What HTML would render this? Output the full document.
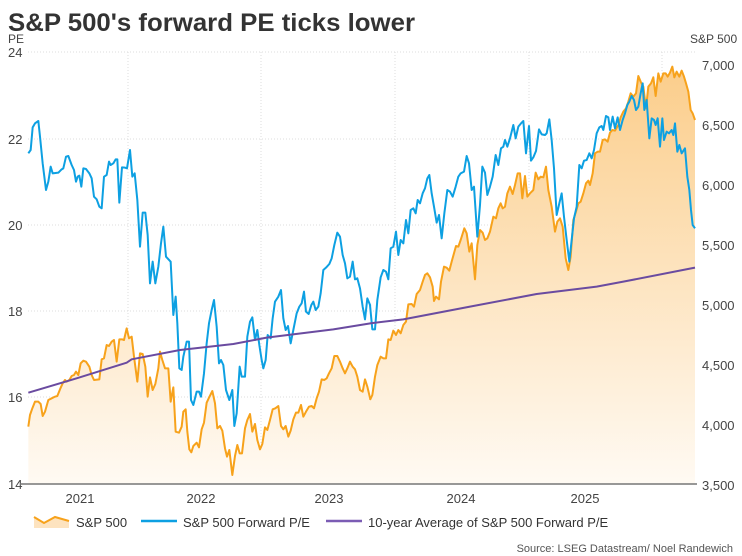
<!DOCTYPE html>
<html><head><meta charset="utf-8"><style>
body{margin:0;background:#fff;width:742px;height:556px;overflow:hidden;font-family:"Liberation Sans",sans-serif;}
svg{display:block}
</style></head><body>
<svg width="742" height="556" viewBox="0 0 742 556" font-family="Liberation Sans, sans-serif">
<defs>
<linearGradient id="g" gradientUnits="userSpaceOnUse" x1="0" y1="70" x2="0" y2="1331">
<stop offset="0" stop-color="#fbcd8a"/><stop offset="1" stop-color="#fffaf3"/></linearGradient>
</defs>
<text x="8" y="31" font-size="25" font-weight="bold" fill="#333" textLength="407" lengthAdjust="spacingAndGlyphs">S&amp;P 500's forward PE ticks lower</text>
<text x="8" y="43" font-size="12" fill="#444">PE</text>
<text x="690" y="43" font-size="12" fill="#444">S&amp;P 500</text>
<g stroke="#ddd" stroke-dasharray="1,2" stroke-width="1">
<line x1="28" y1="52" x2="695" y2="52"/><line x1="28" y1="139" x2="695" y2="139"/><line x1="28" y1="225" x2="695" y2="225"/><line x1="28" y1="311" x2="695" y2="311"/><line x1="28" y1="397" x2="695" y2="397"/>
<line x1="128" y1="52" x2="128" y2="484"/><line x1="261" y1="52" x2="261" y2="484"/><line x1="395" y1="52" x2="395" y2="484"/><line x1="529" y1="52" x2="529" y2="484"/><line x1="662" y1="52" x2="662" y2="484"/>
</g>
<g font-size="13" fill="#444">
<text x="8" y="57">24</text><text x="8" y="144">22</text><text x="8" y="230">20</text><text x="8" y="316">18</text><text x="8" y="402">16</text><text x="8" y="489">14</text>
<text x="702" y="70">7,000</text><text x="702" y="130">6,500</text><text x="702" y="190">6,000</text><text x="702" y="250">5,500</text><text x="702" y="310">5,000</text><text x="702" y="370">4,500</text><text x="702" y="430">4,000</text><text x="702" y="490">3,500</text>
<text x="80" y="503" text-anchor="middle">2021</text><text x="201" y="503" text-anchor="middle">2022</text><text x="329" y="503" text-anchor="middle">2023</text><text x="461" y="503" text-anchor="middle">2024</text><text x="585" y="503" text-anchor="middle">2025</text>
</g>
<g transform="translate(0,40) scale(0.33333)" fill="none" stroke-linejoin="round">
<polygon fill="url(#g)" stroke="none" points="85,1331 85,1160 90,1125 97,1105 105,1085 115,1085 122,1092 128,1128 135,1115 145,1080 155,1075 165,1070 172,1068 180,1048 188,1030 195,1020 200,1025 208,1020 215,1008 222,1005 228,995 235,1005 242,970 250,962 258,965 268,980 275,1005 282,1020 298,1018 305,958 312,955 320,915 327,918 335,905 342,900 350,965 358,898 366,898 372,900 380,865 387,895 395,890 402,950 412,1025 420,940 428,942 436,980 443,1070 450,1012 458,1050 466,1032 475,985 480,935 487,960 495,985 505,985 512,1085 520,1042 527,1175 537,1178 545,1160 550,1115 557,1108 562,1175 568,1228 574,1237 580,1218 590,1208 597,1222 605,1168 612,1148 620,1088 627,1073 637,1053 645,1090 652,1165 660,1158 667,1172 675,1225 681,1250 688,1230 697,1305 705,1248 712,1215 719,1240 726,1240 735,1165 742,1140 750,1122 757,1175 765,1152 772,1200 780,1228 787,1212 795,1162 802,1170 810,1140 818,1108 826,1105 835,1098 843,1158 850,1168 857,1158 865,1190 872,1172 880,1138 888,1118 895,1118 903,1095 910,1130 918,1115 927,1100 935,1098 942,1105 950,1075 957,1055 965,1018 973,1020 980,1015 987,1000 995,985 1003,948 1012,948 1020,965 1028,985 1035,1000 1042,985 1050,965 1058,980 1065,988 1072,1010 1080,1050 1088,1055 1095,1018 1102,1040 1111,1075 1111,1331"/>
<polyline stroke="#f7a21b" stroke-width="2" vector-effect="non-scaling-stroke" points="85,1160 90,1125 97,1105 105,1085 115,1085 122,1092 128,1128 135,1115 145,1080 155,1075 165,1070 172,1068 180,1048 188,1030 195,1020 200,1025 208,1020 215,1008 222,1005 228,995 235,1005 242,970 250,962 258,965 268,980 275,1005 282,1020 298,1018 305,958 312,955 320,915 327,918 335,905 342,900 350,965 358,898 366,898 372,900 380,865 387,895 395,890 402,950 412,1025 420,940 428,942 436,980 443,1070 450,1012 458,1050 466,1032 475,985 480,935 487,960 495,985 505,985 512,1085 520,1042 527,1175 537,1178 545,1160 550,1115 557,1108 562,1175 568,1228 574,1237 580,1218 590,1208 597,1222 605,1168 612,1148 620,1088 627,1073 637,1053 645,1090 652,1165 660,1158 667,1172 675,1225 681,1250 688,1230 697,1305 705,1248 712,1215 719,1240 726,1240 735,1165 742,1140 750,1122 757,1175 765,1152 772,1200 780,1228 787,1212 795,1162 802,1170 810,1140 818,1108 826,1105 835,1098 843,1158 850,1168 857,1158 865,1190 872,1172 880,1138 888,1118 895,1118 903,1095 910,1130 918,1115 927,1100 935,1098 942,1105 950,1075 957,1055 965,1018 973,1020 980,1015 987,1000 995,985 1003,948 1012,948 1020,965 1028,985 1035,1000 1042,985 1050,965 1058,980 1065,988 1072,1010 1080,1050 1088,1055 1095,1018 1102,1040 1111,1078"/>
<polyline stroke="#0da0e2" stroke-width="2" vector-effect="non-scaling-stroke" points="85,340 92,330 98,262 105,250 115,243 120,290 128,370 138,450 145,425 152,380 158,400 175,398 185,388 190,385 198,350 205,348 215,375 222,390 228,425 233,410 238,407 244,440 250,385 258,387 268,400 275,415 282,470 290,478 298,500 305,505 312,410 320,405 327,365 332,375 340,370 347,358 352,358 358,488 366,382 375,383 381,385 390,330 397,410 404,400 412,480 420,620 428,518 436,518 443,585 450,730 458,665 466,730 475,680 483,610 490,560 498,650 512,665 520,825 527,770 532,850 538,985 545,990 550,950 560,905 567,905 573,1080 580,1095 590,1055 597,1055 603,1070 612,1000 620,910 627,850 635,810 642,780 650,860 657,970 663,960 670,975 678,1050 688,1080 697,1050 703,1158 710,1120 719,980 725,1010 735,1010 742,890 750,845 757,832 765,900 772,870 778,915 785,960 790,985 797,960 803,885 812,895 818,835 825,785 835,770 843,750 850,835 857,870 864,858 872,910 880,870 890,820 898,800 905,790 912,755 918,815 926,822 934,795 940,785 947,810 955,800 962,760 970,690 978,683 988,672 995,655 1003,615 1012,578 1020,590 1028,645 1035,670 1042,715 1050,710 1058,665 1065,718 1072,715 1080,745 1088,800 1095,838 1102,775 1111,797"/>
<polyline stroke="#6a4ba0" stroke-width="2" vector-effect="non-scaling-stroke" points="85,1058 230,1015 380,968 395,958 540,930 700,912 800,893 1000,868 1111,850"/>
</g>
<g transform="translate(370,40) scale(0.33333)" fill="none" stroke-linejoin="round">
<polygon fill="url(#g)" stroke="none" points="0,1331 0,1080 7,1065 15,1010 22,975 32,950 40,955 48,955 55,898 62,900 70,872 78,885 85,870 92,880 100,855 108,845 115,793 125,792 132,800 140,762 150,750 158,725 165,705 172,700 180,712 188,740 192,783 198,770 207,778 213,725 222,680 230,683 238,692 245,665 258,618 265,620 272,600 283,565 290,580 298,635 305,610 315,718 322,615 330,570 338,578 345,600 352,595 360,575 370,530 378,535 385,505 392,490 398,505 405,500 412,460 420,440 428,462 435,435 443,400 450,400 457,475 465,408 472,470 480,460 490,450 497,398 505,418 512,410 520,412 528,380 535,450 545,500 555,575 562,545 570,535 578,560 587,655 595,690 602,650 610,540 618,515 625,490 632,485 640,460 648,430 655,422 660,435 668,400 675,340 683,335 690,335 698,300 705,298 713,305 720,278 727,270 735,272 745,255 752,232 760,215 768,205 775,185 782,160 790,170 798,160 805,108 812,125 820,140 828,205 835,140 843,130 850,112 857,168 865,100 872,125 880,100 887,100 893,110 900,98 907,80 913,112 920,95 928,110 935,92 942,110 948,130 955,155 962,210 968,220 975,240 975,1331"/>
<polyline stroke="#f7a21b" stroke-width="2" vector-effect="non-scaling-stroke" points="0,1080 7,1065 15,1010 22,975 32,950 40,955 48,955 55,898 62,900 70,872 78,885 85,870 92,880 100,855 108,845 115,793 125,792 132,800 140,762 150,750 158,725 165,705 172,700 180,712 188,740 192,783 198,770 207,778 213,725 222,680 230,683 238,692 245,665 258,618 265,620 272,600 283,565 290,580 298,635 305,610 315,718 322,615 330,570 338,578 345,600 352,595 360,575 370,530 378,535 385,505 392,490 398,505 405,500 412,460 420,440 428,462 435,435 443,400 450,400 457,475 465,408 472,470 480,460 490,450 497,398 505,418 512,410 520,412 528,380 535,450 545,500 555,575 562,545 570,535 578,560 587,655 595,690 602,650 610,540 618,515 625,490 632,485 640,460 648,430 655,422 660,435 668,400 675,340 683,335 690,335 698,300 705,298 713,305 720,278 727,270 735,272 745,255 752,232 760,215 768,205 775,185 782,160 790,170 798,160 805,108 812,125 820,140 828,205 835,140 843,130 850,112 857,168 865,100 872,125 880,100 887,100 893,110 900,98 907,80 913,112 920,95 928,110 935,92 942,110 948,130 955,155 962,210 968,220 975,240"/>
<polyline stroke="#0da0e2" stroke-width="2" vector-effect="non-scaling-stroke" points="0,795 7,868 15,868 22,780 32,712 40,690 48,695 55,718 62,625 70,620 78,575 85,645 92,600 100,610 108,540 115,580 122,510 130,505 137,520 143,480 150,490 158,460 165,445 172,415 178,405 185,460 192,500 200,548 207,525 215,595 223,520 232,450 240,455 248,470 257,440 265,410 272,400 282,395 290,348 297,370 305,450 312,440 322,590 330,495 337,380 345,398 352,465 360,440 368,410 377,345 385,375 393,325 400,320 405,300 412,320 420,295 430,255 437,295 445,260 455,248 460,243 468,340 477,258 483,362 490,352 498,333 507,268 515,283 525,285 530,280 538,238 545,300 552,385 560,525 568,490 575,460 582,530 590,600 598,665 605,600 612,535 620,500 628,375 635,385 642,362 650,360 658,340 665,355 672,330 680,280 688,262 695,258 700,270 708,228 715,232 720,270 728,230 735,265 743,232 750,270 758,240 765,220 772,195 778,185 785,168 792,180 798,210 805,200 812,160 818,130 823,210 830,180 838,295 845,235 852,240 857,255 863,235 870,320 877,235 882,300 890,275 897,280 905,270 910,285 915,250 922,335 928,315 935,340 945,325 952,410 958,450 963,510 968,555 975,565"/>
<polyline stroke="#6a4ba0" stroke-width="2" vector-effect="non-scaling-stroke" points="0,850 100,838 300,800 500,762 680,740 760,725 975,683"/>
</g>
<line x1="20" y1="484" x2="697" y2="484" stroke="#777" stroke-width="1.5"/>
<path d="M34,517 L44,523 L55,517 L69,521 L69,528 L34,528Z" fill="#fde3bf"/>
<polyline points="34,517 44,523 55,517 69,521" fill="none" stroke="#f7a21b" stroke-width="2"/>
<line x1="141" y1="521" x2="177" y2="521" stroke="#0da0e2" stroke-width="2.5"/>
<line x1="326" y1="521" x2="362" y2="521" stroke="#7b5cb4" stroke-width="2.5"/>
<text x="76" y="527" font-size="13" fill="#333">S&amp;P 500</text>
<text x="183" y="527" font-size="13" fill="#333">S&amp;P 500 Forward P/E</text>
<text x="368" y="527" font-size="13" fill="#333">10-year Average of S&amp;P 500 Forward P/E</text>
<text x="733" y="552" font-size="11" fill="#555" text-anchor="end">Source: LSEG Datastream/ Noel Randewich</text>
</svg>
</body></html>
